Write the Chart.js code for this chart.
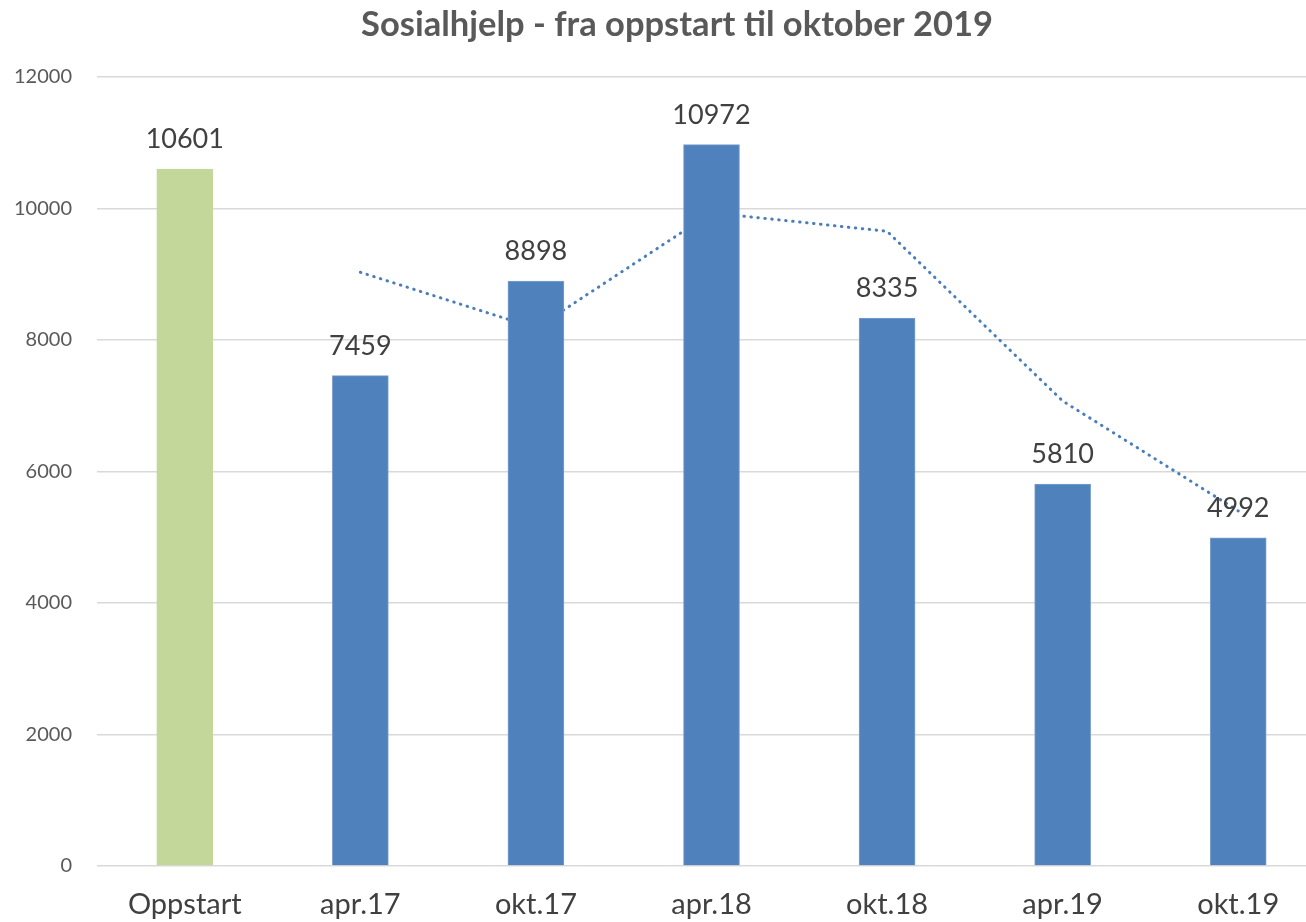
<!DOCTYPE html>
<html>
<head>
<meta charset="utf-8">
<script src="https://cdn.jsdelivr.net/npm/chart.js@4.4.0/dist/chart.umd.min.js"></script>
<style>
  html, body { margin: 0; padding: 0; overflow: hidden; background: #fff; }
  #wrap { width: 1354px; height: 922px; position: relative; }
</style>
</head>
<body>
<div id="wrap"><canvas id="c"></canvas></div>
<script>
const titleText = 'Sosialhjelp - fra oppstart til oktober 2019';
const categories = ['Oppstart', 'apr.17', 'okt.17', 'apr.18', 'okt.18', 'apr.19', 'okt.19'];
const barValues = [10601, 7459, 8898, 10972, 8335, 5810, 4992];
const trendValues = [null, 9030, 8179, 9935, 9654, 7073, 5401];
const yTicks = [0, 2000, 4000, 6000, 8000, 10000, 12000];

const FONT = 'Lato, "Open Sans", sans-serif';
const barColors = categories.map((c, i) => i === 0 ? '#c4d79b' : '#4f81bd');
const barBorders = categories.map((c, i) => i === 0 ? '#c4d79b' : '#7da0cf');

const labelPlugin = {
  id: 'labels',
  afterDatasetsDraw(chart) {
    const ctx = chart.ctx;
    const meta = chart.getDatasetMeta(0);
    ctx.save();
    ctx.font = '27px ' + FONT;
    ctx.fillStyle = '#404040';
    ctx.textAlign = 'center';
    ctx.textBaseline = 'alphabetic';
    meta.data.forEach((el, i) => {
      ctx.fillText(String(barValues[i]), el.x, el.y - 21);
    });
    ctx.restore();
  },
  afterDraw(chart) {
    const ctx = chart.ctx;
    ctx.save();
    ctx.font = 'bold 34.5px ' + FONT;
    ctx.fillStyle = '#595959';
    ctx.textAlign = 'center';
    ctx.textBaseline = 'alphabetic';
    ctx.fillText(titleText, 677, 36);
    ctx.restore();
  }
};

new Chart(document.getElementById('c'), {
  data: {
    labels: categories,
    datasets: [
      {
        type: 'bar',
        data: barValues,
        backgroundColor: barColors,
        borderColor: barBorders,
        borderWidth: 1,
        barThickness: 56,
        order: 1
      },
      {
        type: 'line',
        data: trendValues,
        borderColor: '#4a7ebb',
        borderWidth: 3,
        borderDash: [0.5, 6.5],
        borderCapStyle: 'round',
        pointRadius: 0,
        tension: 0,
        fill: false,
        spanGaps: false,
        order: 2
      }
    ]
  },
  options: {
    responsive: true,
    maintainAspectRatio: false,
    animation: false,
    layout: { padding: { left: 0, right: 28, top: 77, bottom: 0 } },
    plugins: {
      legend: { display: false },
      title: { display: false },
      tooltip: { enabled: false }
    },
    scales: {
      x: {
        grid: { display: false, drawTicks: false },
        border: { display: false },
        ticks: {
          color: '#404040',
          font: { family: FONT, size: 29 },
          padding: 21,
          maxRotation: 0
        },
        afterFit(scale) { scale.height = 56; }
      },
      y: {
        min: 0,
        max: 12000,
        afterBuildTicks(scale) { scale.ticks = yTicks.map(v => ({ value: v })); },
        grid: { color: '#d9d9d9', lineWidth: 1.5, drawTicks: false },
        border: { display: false },
        ticks: {
          color: '#595959',
          font: { family: FONT, size: 20 },
          padding: 25,
          callback: v => String(v)
        },
        afterFit(scale) { scale.width = 97; }
      }
    }
  },
  plugins: [labelPlugin]
});
</script>
</body>
</html>
